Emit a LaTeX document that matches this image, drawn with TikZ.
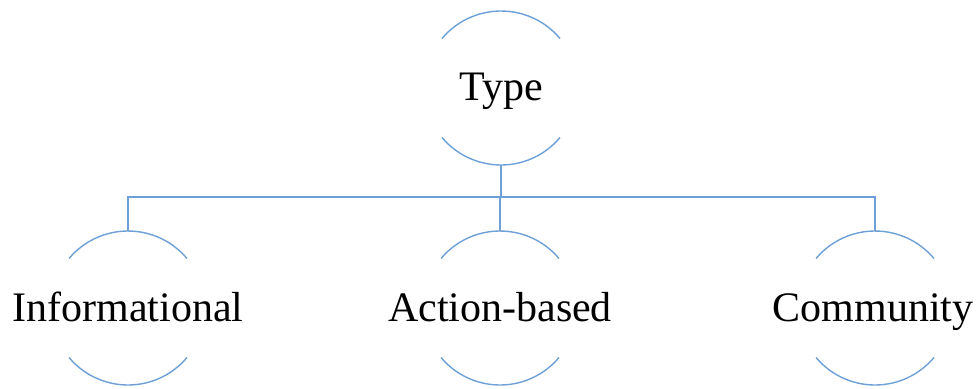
\documentclass[tikz,border=0pt]{standalone}
\usepackage{fontspec}
\setmainfont{Liberation Serif}
\usetikzlibrary{calc}
\definecolor{linkblue}{RGB}{108,160,214}
\tikzset{
  arcline/.style={draw=linkblue, line width=1.4bp},
  lbl/.style={font=\fontsize{42bp}{48bp}\selectfont, text=black, inner sep=0pt, anchor=base},
}
\begin{document}
\begin{tikzpicture}[x=1bp, y=-1bp]
  \useasboundingbox (0,0) rectangle (977,388);
  % circle centres and radius
  \def\rad{77}
  \coordinate (c0) at (501,88);
  \coordinate (c1) at (128,308);
  \coordinate (c2) at (500,308);
  \coordinate (c3) at (875,308);
  % each open circle: top and bottom arcs only
  \foreach \c in {c0,c1,c2,c3}{
    \draw[arcline] ($(\c)+(140:\rad)$) arc[start angle=140, end angle=40, radius=\rad];
    \draw[arcline] ($(\c)+(220:\rad)$) arc[start angle=220, end angle=320, radius=\rad];
  }
  \node[lbl] (type) at (501,100) {Type};
  \node[lbl] (info) at (128,321) {Informational};
  \node[lbl] (act) at (500,321) {Action-based};
  \node[lbl] (comm) at (873,321) {Community};
  % connector tree
  \coordinate (rootb) at ($(c0)+(0,\rad)$);
  \coordinate (t1) at ($(c1)+(0,-\rad)$);
  \coordinate (t2) at ($(c2)+(0,-\rad)$);
  \coordinate (t3) at ($(c3)+(0,-\rad)$);
  \draw[arcline] (rootb) -- (rootb |- 0,197);
  \draw[arcline] (t1) -- (t1 |- 0,197) -- (t3 |- 0,197) -- (t3);
  \draw[arcline] (t2) -- (t2 |- 0,197);
\end{tikzpicture}
\end{document}
